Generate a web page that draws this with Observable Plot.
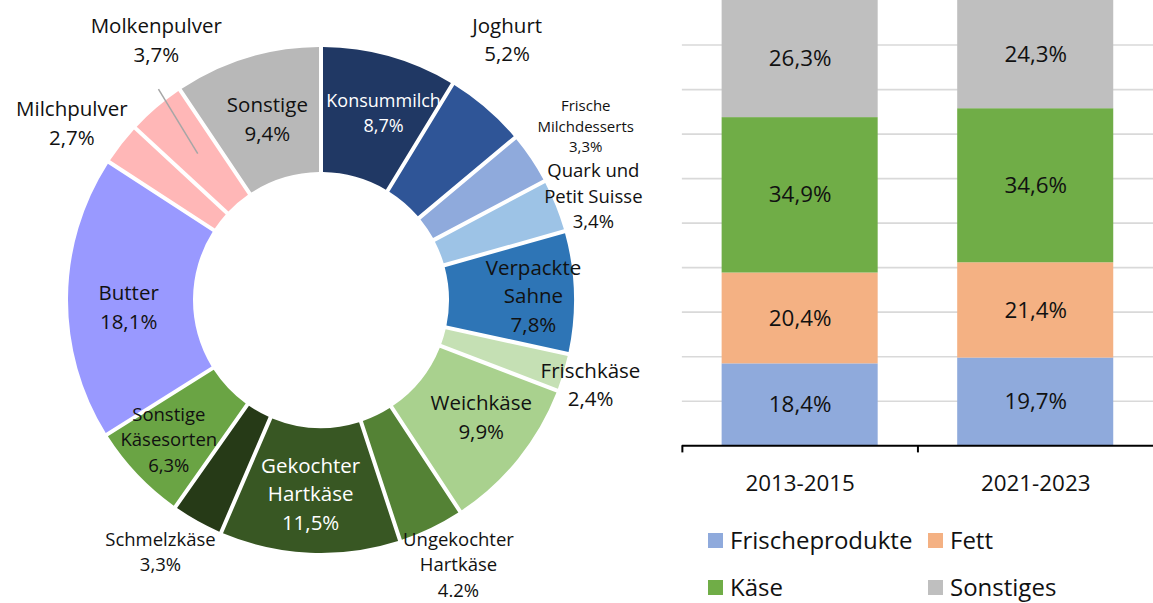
<!DOCTYPE html>
<html><head><meta charset="utf-8">
<script src="https://cdn.jsdelivr.net/npm/d3@7"></script>
<script src="https://cdn.jsdelivr.net/npm/@observablehq/plot@0.6"></script>
<style>
body{margin:0;overflow:hidden;background:#fff;font-family:"Open Sans","Noto Sans",sans-serif;}
#wrap{position:relative;width:1153px;height:603px;overflow:hidden}
#donut{position:absolute;left:0;top:0}
#bars{position:absolute;left:660px;top:0}
.lg{position:absolute;display:flex;align-items:center;font-size:24px;line-height:28px;color:#111;white-space:nowrap;height:28px}
.lg span.sw{display:inline-block;width:15px;height:15px;margin-right:7px}
</style></head><body>
<div id="wrap"><div id="donut"></div><div id="bars"></div><div id="legend"></div></div>
<script>
// ---- Donut data ----
const sliceNames = ["Konsummilch","Joghurt","Frische\nMilchdesserts","Quark und\nPetit Suisse","Verpackte\nSahne","Frischkäse","Weichkäse","Ungekochter\nHartkäse","Gekochter\nHartkäse","Schmelzkäse","Sonstige\nKäsesorten","Butter","Milchpulver","Molkenpulver","Sonstige"];
const sliceValues = [8.7,5.2,3.3,3.4,7.8,2.4,9.9,4.2,11.5,3.3,6.3,18.1,2.7,3.7,9.4];
const sliceLabels = ["8,7%","5,2%","3,3%","3,4%","7,8%","2,4%","9,9%","4.2%","11,5%","3,3%","6,3%","18,1%","2,7%","3,7%","9,4%"];
const sliceColors = ["#203864","#2f5597","#8faadc","#9dc3e6","#2e75b6","#c5e0b4","#a9d18e","#548235","#385723","#263a17","#6aa444","#9999ff","#ffb7b7","#ffb7b7","#b8b8b8"];

// ---- Stacked bar data ----
const periods = ["2013-2015","2021-2023"];
const groups = ["Frischeprodukte","Fett","Käse","Sonstiges"];
const frische = [18.4,19.7];
const fett = [20.4,21.4];
const kaese = [34.9,34.6];
const sonstiges = [26.3,24.3];
const groupColors = ["#8faadc","#f4b183","#70ad47","#bfbfbf"];

// ---- label placement (style) ----
const labelR  = [197,320,316,291,212,282,198,298,194,299,207,193,306,308,189];
const labelDA = [2.7,-5.25,0.7,1.0,0.6,0.8,-2.6,-1.6,0.7,3.4,1.05,-2.5,-2.6,8.1,0.3];
const labelSize = [18,20.5,15,18.5,20.5,20.5,20.5,18.5,20.5,18.5,18.5,20.5,20.5,20.5,20.5];
const labelWhite = [true,false,false,false,false,false,false,false,true,false,false,false,false,false,false];

const slices = sliceNames.map((name,i)=>({name, value:sliceValues[i], label:sliceLabels[i], color:sliceColors[i]}));
const arcs = d3.pie().sort(null).value(d=>d.value)(slices);
const R0 = 128, R1 = 253;
const deg = Math.PI/180;
const labelData = arcs.map((a,i)=>{
  const ang = (a.startAngle+a.endAngle)/2 + labelDA[i]*deg;
  return {text: a.data.name + "\n" + a.data.label, x: labelR[i]*Math.sin(ang), y: -labelR[i]*Math.cos(ang),
          size: labelSize[i], fill: labelWhite[i] ? "#ffffff" : "#111111"};
});
const mo = arcs[13];
const moAng = (mo.startAngle+mo.endAngle)/2;
const leader = [{x1: 192*Math.sin(moAng+0.4*deg), y1: -192*Math.cos(moAng+0.4*deg), x2: 267*Math.sin(moAng+2.9*deg), y2: -267*Math.cos(moAng+2.9*deg)}];

const donut = Plot.plot({
  width: 660, height: 603, margin: 0,
  style: {fontFamily: "'Open Sans', 'Noto Sans', sans-serif", background: "transparent"},
  x: {domain: [-321, 339], axis: null},
  y: {domain: [-300, 303], axis: null, reverse: true},
  color: {type: "identity"},
  marks: [
    (index, scales) => {
      const cx = scales.x(0), cy = scales.y(0);
      const k = scales.x(1) - scales.x(0);
      const arc = d3.arc().innerRadius(R0*k).outerRadius(R1*k).padRadius(200).padAngle(4/200);
      const g = d3.create("svg:g").attr("transform", `translate(${cx},${cy})`);
      g.selectAll("path").data(arcs).join("path").attr("d", arc).attr("fill", d=>d.data.color);
      return g.node();
    },
    Plot.link(leader, {x1:"x1", y1:"y1", x2:"x2", y2:"y2", stroke:"#a6a6a6", strokeWidth:1.5}),
    Plot.text(labelData, {x:"x", y:"y", dy:-2, text:"text", fontSize:"size", fill:"fill", lineHeight:1.38, lineAnchor:"middle"})
  ]
});
document.getElementById("donut").append(donut);

// ---- Bars ----
const series = [frische, fett, kaese, sonstiges];
const barData = periods.flatMap((p,i)=>groups.map((g,j)=>({period:p, group:g, value:series[j][i]})));
const fmt = v => v.toFixed(1).replace(".", ",") + "%";
const bars = Plot.plot({
  width: 496, height: 500, marginTop: 0, marginBottom: 52, marginLeft: 22, marginRight: 0,
  style: {fontFamily: "'Open Sans', 'Noto Sans', sans-serif", background: "transparent", overflow: "visible"},
  x: {domain: periods, paddingInner: 0.3376, paddingOuter: 0.1688, axis: null},
  y: {domain: [0, 100], axis: null},
  color: {domain: groups, range: groupColors},
  marks: [
    Plot.ruleY(d3.range(10, 100, 10), {stroke: "#d9d9d9", strokeWidth: 1.7}),
    Plot.barY(barData, {x: "period", y: "value", fill: "group"}),
    Plot.text(barData, Plot.stackY({x: "period", y: "value", text: d => fmt(d.value), fontSize: 22.5, fill: "#111"})),
    Plot.ruleY([0], {stroke: "#000", strokeWidth: 2}),
    Plot.ruleX(periods, {x: d => d, y1: 0, y2: -1.6, dx: -118.5, stroke: "#000", strokeWidth: 2}),
    Plot.text(periods, {x: d => d, y: 0, dy: 38, text: d => d, fontSize: 22.5, fill: "#111"})
  ]
});
document.getElementById("bars").append(bars);

// ---- Legend ----
const cs = bars.scale("color");
const legPos = [[708,540],[928,540],[708,587],[928,587]];
const legend = document.getElementById("legend");
cs.domain.forEach((g,i)=>{
  const d = document.createElement("div");
  d.className = "lg";
  d.style.left = legPos[i][0] + "px";
  d.style.top = (legPos[i][1]-14) + "px";
  const s = document.createElement("span"); s.className = "sw"; s.style.background = cs.range[i];
  d.append(s, document.createTextNode(g));
  legend.append(d);
});
</script>
</body></html>
